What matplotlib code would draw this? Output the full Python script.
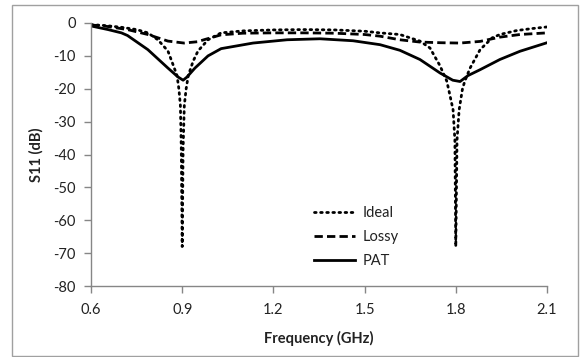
import matplotlib.pyplot as plt
from matplotlib.patches import Rectangle

plt.rcParams['font.family'] = ['Lato', 'DejaVu Sans']
plt.rcParams['axes.unicode_minus'] = False

# Ideal (dense around the two resonances)
freqIdeal = [0.6, 0.65, 0.7, 0.75, 0.787, 0.82, 0.853, 0.87, 0.883, 0.889, 0.894, 0.897,
             0.9, 0.903, 0.907, 0.913, 0.92, 0.936, 0.952, 0.985, 1.028, 1.1, 1.2, 1.3,
             1.4, 1.5, 1.55, 1.616, 1.682, 1.715, 1.748, 1.77, 1.776, 1.791, 1.797, 1.8,
             1.804, 1.811, 1.822, 1.83, 1.847, 1.88, 1.92, 1.945, 2.0, 2.05, 2.1]
s11Ideal = [-0.5, -0.8, -1.3, -2.0, -3.0, -5.1, -8.5, -12.7, -16.0, -20.0, -25.0, -38.0,
            -68.0, -38.0, -25.0, -20.0, -16.0, -11.6, -8.5, -5.1, -3.0, -2.4, -2.1, -2.0,
            -2.1, -2.5, -3.0, -3.5, -5.5, -7.6, -13.0, -17.6, -20.0, -26.4, -35.6, -68.0,
            -35.6, -26.4, -20.0, -17.6, -13.7, -8.1, -4.5, -3.5, -2.3, -1.7, -1.2]

freqLossy = [0.6, 0.65, 0.72, 0.787, 0.853, 0.906, 0.95, 0.975, 1.028, 1.1, 1.2, 1.3,
             1.4, 1.5, 1.55, 1.616, 1.682, 1.75, 1.814, 1.88, 1.945, 2.011, 2.1]
s11Lossy = [-0.6, -1.0, -2.0, -3.5, -5.5, -6.1, -5.7, -5.0, -3.6, -3.1, -3.0, -3.0,
            -3.1, -3.5, -4.0, -5.1, -5.8, -6.0, -6.1, -5.6, -4.3, -3.5, -3.0]

freqPat = [0.6, 0.656, 0.7, 0.72, 0.787, 0.853, 0.886, 0.903, 0.915, 0.942, 0.985, 1.028,
           1.133, 1.245, 1.353, 1.462, 1.551, 1.616, 1.682, 1.748, 1.79, 1.814, 1.84,
           1.88, 1.945, 2.011, 2.1]
s11Pat = [-0.9, -2.0, -3.0, -3.8, -8.1, -13.7, -16.4, -17.4, -16.5, -13.7, -10.0, -7.8,
          -6.1, -5.1, -4.8, -5.4, -6.6, -8.3, -11.1, -15.2, -17.4, -17.8, -16.0,
          -14.2, -11.1, -8.6, -6.0]

xticks = [0.6, 0.9, 1.2, 1.5, 1.8, 2.1]
yticks = [0, -10, -20, -30, -40, -50, -60, -70, -80]

fs = 10.5

fig = plt.figure(figsize=(5.81, 3.57), dpi=100)
ax = fig.add_axes([91 / 581, 1 - 286 / 357, 456 / 581, 263 / 357])

ax.plot(freqIdeal, s11Ideal, color='black', lw=2.0, linestyle=(0, (0.6, 1.6)),
        dash_capstyle='round', label='Ideal')
ax.plot(freqLossy, s11Lossy, color='black', lw=2.0, linestyle=(0, (3, 1.5)),
        solid_joinstyle='round', label='Lossy')
ax.plot(freqPat, s11Pat, color='black', lw=2.0, solid_joinstyle='round', label='PAT')

ax.set_xlim(0.6, 2.1)
ax.set_ylim(-80, 0)
ax.set_xticks(xticks)
ax.set_xticklabels([str(t) for t in xticks])
ax.set_yticks(yticks)

grey = '#868686'
for side in ['top', 'right']:
    ax.spines[side].set_visible(False)
for side in ['left', 'bottom']:
    ax.spines[side].set_color(grey)
    ax.spines[side].set_linewidth(1.0)
ax.tick_params(direction='out', length=5, width=1, color=grey, labelsize=fs,
               labelcolor='#222222')
ax.tick_params(axis='x', pad=7)
ax.tick_params(axis='y', pad=6)

ax.set_xlabel('Frequency (GHz)', fontsize=fs, fontweight='bold', color='#222222', labelpad=10)
ax.set_ylabel('S11 (dB)', fontsize=fs, fontweight='bold', color='#222222', labelpad=7)

leg = ax.legend(loc='lower left', bbox_to_anchor=(0.46, 0.02), frameon=False, fontsize=fs,
                handlelength=2.8, handletextpad=0.55, labelspacing=0.68)
for t in leg.get_texts():
    t.set_color('#222222')

fig.patches.append(Rectangle((12 / 581, 1 / 357), 566 / 581, 351 / 357,
                             transform=fig.transFigure, fill=False, edgecolor='#a0a0a0', lw=1.0))

fig.savefig('out.png', dpi=100)
